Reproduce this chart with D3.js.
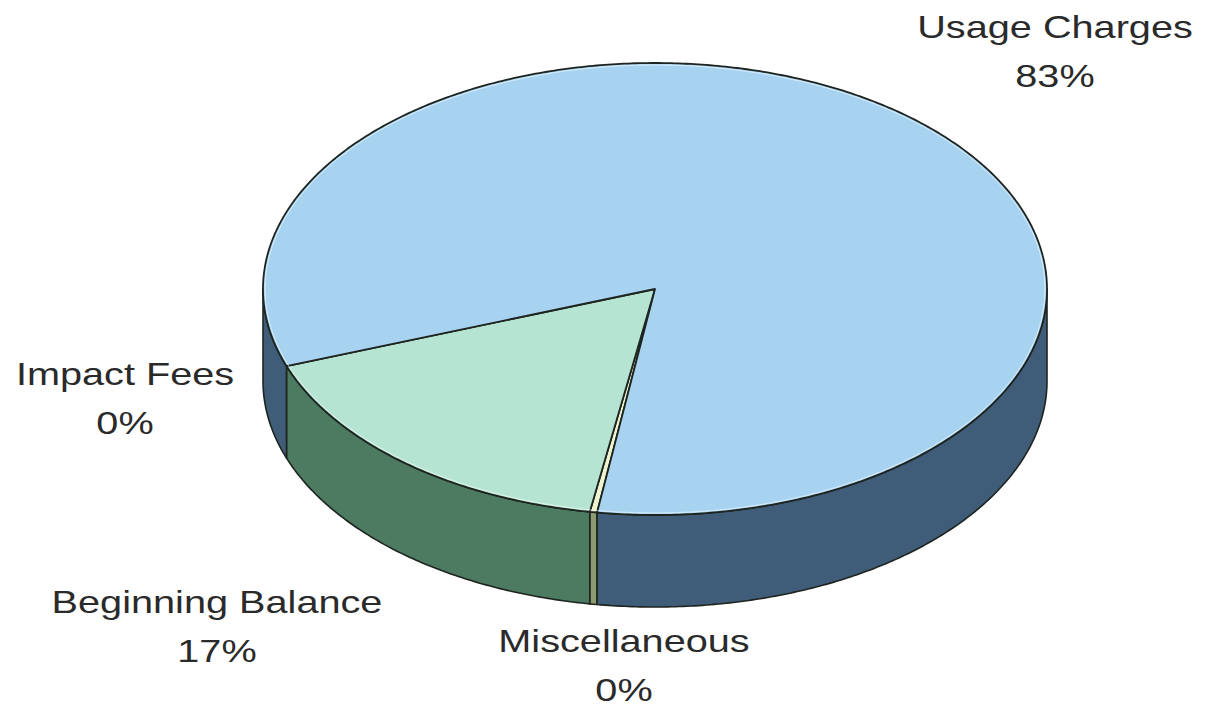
<!DOCTYPE html>
<html>
<head>
<meta charset="utf-8">
<script src="https://cdn.jsdelivr.net/npm/d3@7"></script>
<style>
  html, body { margin: 0; padding: 0; background: #ffffff; }
  svg { display: block; }
  text { font-family: "Liberation Sans", Arial, sans-serif; fill: #2a2a2a; }
</style>
</head>
<body>
<svg id="chart" width="1205" height="708"></svg>
<script>
// Revenue sources, in percent of total
const categories = ["Miscellaneous", "Beginning Balance", "Impact Fees", "Usage Charges"];
const values = [0.3, 16.8, 0.0, 82.9];
const topColors = ["#eef3d0", "#b5e4d2", "#c9d9b4", "#a7d3f1"];
const sideColors = ["#8c9c70", "#4d7b62", "#6a7c5a", "#3f5d78"];

// Label anchor (centre x, first baseline) per category
const labelPos = {
  "Miscellaneous": [624, 652],
  "Beginning Balance": [217, 613],
  "Impact Fees": [125, 385],
  "Usage Charges": [1055, 38]
};

const svg = d3.select("#chart");

// Ellipse geometry of the tilted disc
const cx = 655, cy = 289, rx = 392, ry = 226, depth = 92;

// d3.pie measures from 12 o'clock clockwise; the first slice starts just left of 6 o'clock
const startA = (188.5 / 180) * Math.PI;
const pie = d3.pie().sort(null).value(d => d.value)
  .startAngle(startA).endAngle(startA + 2 * Math.PI);

const data = categories.map((c, i) => ({ name: c, value: values[i], i }));
const arcs = pie(data);

// convert pie angle to parametric ellipse angle (0 = 3 o'clock, increasing downward)
const toT = a => a - Math.PI / 2;
const px = t => cx + rx * Math.cos(t);
const py = t => cy + ry * Math.sin(t);

function arcPoints(t0, t1, dy) {
  const n = Math.max(2, Math.ceil(Math.abs(t1 - t0) / 0.01));
  const pts = [];
  for (let k = 0; k <= n; k++) {
    const t = t0 + (t1 - t0) * k / n;
    pts.push([px(t), py(t) + dy]);
  }
  return pts;
}

const line = d3.line();

// Side wall: only the front half (t in [0, PI] modulo 2PI) is visible
const sideG = svg.append("g");
arcs.forEach(a => {
  const t0 = toT(a.startAngle), t1 = toT(a.endAngle);
  if (t1 - t0 <= 0) return;
  [0, 2 * Math.PI, -2 * Math.PI, 4 * Math.PI].forEach(off => {
    const s = Math.max(t0, off), e = Math.min(t1, off + Math.PI);
    if (e - s <= 1e-6) return;
    const top = arcPoints(s, e, 0);
    const bottom = arcPoints(e, s, depth);
    sideG.append("path")
      .attr("d", line(top.concat(bottom)) + "Z")
      .attr("fill", sideColors[a.data.i])
      .attr("stroke", "#1e2420")
      .attr("stroke-width", 1.6)
      .attr("stroke-linejoin", "round");
  });
});

// Top face slices
const topG = svg.append("g");
arcs.forEach(a => {
  const t0 = toT(a.startAngle), t1 = toT(a.endAngle);
  if (t1 - t0 <= 0) return;
  const pts = [[cx, cy]].concat(arcPoints(t0, t1, 0));
  topG.append("path")
    .attr("d", line(pts) + "Z")
    .attr("fill", topColors[a.data.i])
    .attr("stroke", "#1e2420")
    .attr("stroke-width", 1.8)
    .attr("stroke-linejoin", "round");
});

// faint highlight just inside the rim
svg.append("ellipse")
  .attr("cx", cx).attr("cy", cy)
  .attr("rx", rx - 2).attr("ry", ry - 2)
  .attr("fill", "none")
  .attr("stroke", "rgba(255,255,255,0.55)")
  .attr("stroke-width", 1);

// Labels (wide face: horizontally stretched type)
const fmt = v => Math.round(v) + "%";
const stretch = 1.24;
const labelG = svg.append("g");
data.forEach(d => {
  const [x, y] = labelPos[d.name];
  const g = labelG.append("g")
    .attr("transform", `translate(${x},${y}) scale(${stretch},1)`);
  const t = g.append("text")
    .attr("text-anchor", "middle")
    .attr("font-size", 32);
  t.append("tspan").attr("x", 0).attr("y", 0).text(d.name);
  t.append("tspan").attr("x", 0).attr("y", 49.5).text(fmt(d.value));
});
</script>
</body>
</html>
